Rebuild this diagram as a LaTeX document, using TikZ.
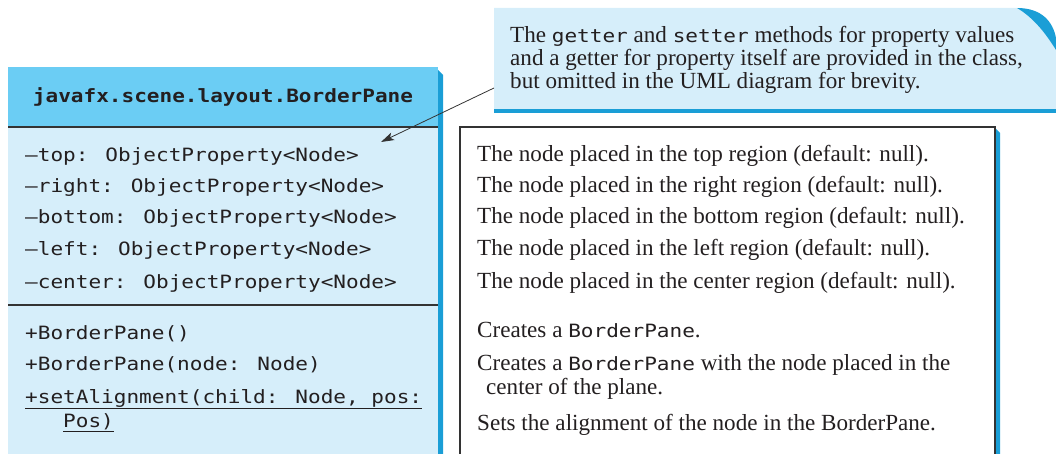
\documentclass[tikz,border=0pt]{standalone}
\usepackage{fontspec}
\setmainfont{Liberation Serif}
\newfontfamily\monof[FakeStretch=1.15]{DejaVu Sans Mono}
\usetikzlibrary{arrows.meta}
\definecolor{headblue}{HTML}{6BCDF4}
\definecolor{bodyblue}{HTML}{D6EEFA}
\definecolor{shadeblue}{HTML}{1A9ED6}
\definecolor{edgegray}{HTML}{333333}
\definecolor{ink}{HTML}{231F20}
\newcommand\mt[1]{{\monof\fontsize{18.3}{20}\selectfont #1}}
\tikzset{
  monotxt/.style={font=\monof\fontsize{18.3}{20}\selectfont, anchor=base west, inner sep=0pt, text=ink},
  seriftxt/.style={font=\fontsize{23.1}{23}\selectfont, anchor=base west, inner sep=0pt, text=ink},
  sepline/.style={draw=edgegray, line width=1.2pt},
  pointer/.style={draw=edgegray, line width=0.8pt, -{Stealth[length=13pt,width=8pt,inset=3pt]}}
}
\begin{document}
\begin{tikzpicture}[x=1pt,y=-1pt]
\useasboundingbox (0,0) rectangle (1056,454);
% ---- UML class box ----
\fill[shadeblue] (438,70) -- (443,75) -- (443,454) -- (438,454) -- cycle;
\fill[headblue] (8,67) rectangle (438,127);
\fill[bodyblue] (8,127) rectangle (438,454);
\draw[sepline] (8,127) -- (438,127);
\draw[sepline] (8,305) -- (438,305);
\node[font=\monof\bfseries\fontsize{18.3}{20}\selectfont, anchor=base, inner sep=0pt, text=ink] (title) at (223,103) {javafx.scene.layout.BorderPane};
\node[monotxt] (f1) at (25,162) {–top: ObjectProperty<Node>};
\node[monotxt] (f2) at (25,193) {–right: ObjectProperty<Node>};
\node[monotxt] (f3) at (25,224) {–bottom: ObjectProperty<Node>};
\node[monotxt] (f4) at (25,255) {–left: ObjectProperty<Node>};
\node[monotxt] (f5) at (25,288) {–center: ObjectProperty<Node>};
\node[monotxt] (m1) at (25,339) {+BorderPane()};
\node[monotxt] (m2) at (25,370) {+BorderPane(node: Node)};
\node[monotxt] (m3) at (25,403) {\underline{+setAlignment(child: Node, pos:}};
\node[monotxt] (m4) at (63,427) {\underline{Pos)}};
% ---- description box ----
\fill[shadeblue] (996,129) -- (1000,133) -- (1000,454) -- (996,454) -- cycle;
\draw[sepline] (460,454) -- (460,127) -- (995,127) -- (995,454);
\node[seriftxt] (d1) at (477,162) {The node placed in the top region (default: null).};
\node[seriftxt] (d2) at (477,193) {The node placed in the right region (default: null).};
\node[seriftxt] (d3) at (477,224) {The node placed in the bottom region (default: null).};
\node[seriftxt] (d4) at (477,255) {The node placed in the left region (default: null).};
\node[seriftxt] (d5) at (477,288) {The node placed in the center region (default: null).};
\node[seriftxt] (d6) at (477,337) {Creates a \mt{BorderPane}.};
\node[seriftxt] (d7) at (477,370) {Creates a \mt{BorderPane} with the node placed in the};
\node[seriftxt] (d8) at (486,394) {center of the plane.};
\node[seriftxt] (d9) at (477,430) {Sets the alignment of the node in the BorderPane.};
% ---- note ----
\fill[shadeblue] (494,108) rectangle (1056,113);
\fill[bodyblue] (494,8) -- (1017,8) .. controls (1034,18) and (1046,34) .. (1056,50) -- (1056,109) -- (494,109) -- cycle;
\fill[shadeblue] (1017,8) .. controls (1042,8) and (1053,22) .. (1056,38) -- (1056,50) .. controls (1046,34) and (1034,18) .. (1017,8) -- cycle;
\node[seriftxt] (n1) at (510,43) {The \mt{getter} and \mt{setter} methods for property values};
\node[seriftxt] (n2) at (510,66) {and a getter for property itself are provided in the class,};
\node[seriftxt] (n3) at (510,89) {but omitted in the UML diagram for brevity.};
\coordinate (noteA) at (494,88);
\coordinate (tip) at (381,142);
\draw[pointer] (noteA) -- (tip);
\end{tikzpicture}
\end{document}
